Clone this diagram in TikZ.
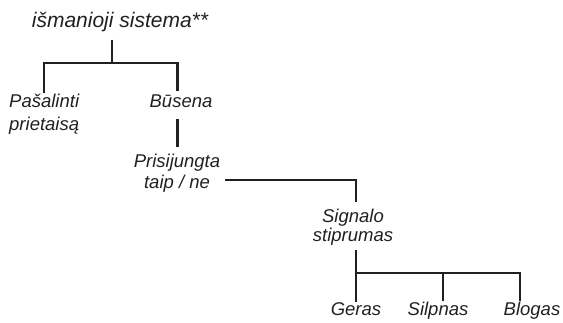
\documentclass[tikz,border=0pt]{standalone}
\usepackage{fontspec}
\setmainfont{Liberation Sans}
\definecolor{ink}{HTML}{231F20}
\begin{document}
\begin{tikzpicture}[x=1pt,y=-1pt,
	lbl/.style={font=\itshape\fontsize{18.5}{22}\selectfont, inner sep=0pt, text=ink},
	link/.style={line width=2.1pt, draw=ink}]
	\useasboundingbox (0,0) rectangle (563,322);

	\node[lbl, font=\itshape\fontsize{21}{24}\selectfont, anchor=base] (root) at (120,27) {išmanioji sistema**};
	\node[lbl, font=\itshape\fontsize{18.5}{23}\selectfont, align=left, anchor=base west] (remove) at (9,130) {Pašalinti\\prietaisą};
	\node[lbl, anchor=base] (state) at (181,107) {Būsena};
	\node[lbl, font=\itshape\fontsize{18.5}{21}\selectfont, align=center, anchor=base] (conn) at (177,188) {Prisijungta\\taip / ne};
	\node[lbl, font=\itshape\fontsize{18.5}{19}\selectfont, align=center, anchor=base] (signal) at (353,241) {Signalo\\stiprumas};
	\node[lbl, anchor=base] (good) at (356,315) {Geras};
	\node[lbl, anchor=base] (weak) at (438,315) {Silpnas};
	\node[lbl, anchor=base] (bad) at (532,315) {Blogas};

	\coordinate (fork1) at (112,63);
	\coordinate (fork2) at (356,273);

	\draw[link, line width=2.6pt, shorten <=8pt] (root.south -| fork1) -- (fork1);
	\draw[link, shorten >=3pt] (remove.north) |- (fork1) -| ([xshift=-3.5pt]state.north);
	\draw[link, shorten <=12pt, shorten >=6pt] ([xshift=-3.5pt]state.south) -- ([xshift=-3.5pt]state.south |- conn.north);
	\draw[link, shorten <=5pt, shorten >=6pt] ([yshift=-7pt]conn.east) -| (fork2 |- signal.north);
	\draw[link, shorten <=5pt] (signal.south -| fork2) -- (fork2) -- (fork2 |- good.north);
	\draw[link] (fork2) -| ([xshift=5pt]weak.north);
	\draw[link] (fork2) -| ([xshift=-12pt]bad.north);
\end{tikzpicture}
\end{document}
